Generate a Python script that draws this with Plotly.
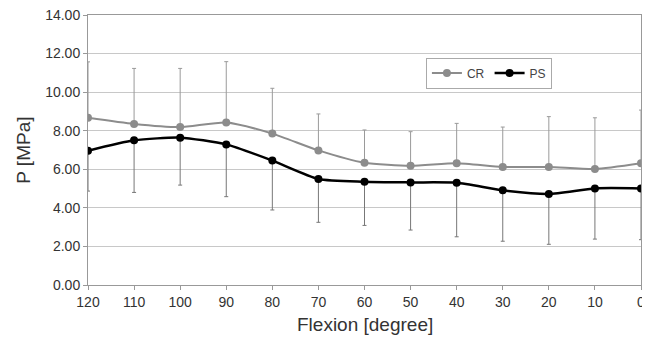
import plotly.graph_objects as go

flexion = ["120", "110", "100", "90", "80", "70", "60", "50", "40", "30", "20", "10", "0"]
cr_mean = [8.67, 8.35, 8.19, 8.43, 7.85, 6.98, 6.34, 6.18, 6.31, 6.12, 6.12, 6.01, 6.31]
cr_sd = [2.90, 2.88, 3.04, 3.15, 2.35, 1.89, 1.70, 1.77, 2.07, 2.07, 2.61, 2.66, 2.76]
ps_mean = [6.96, 7.50, 7.64, 7.29, 6.45, 5.50, 5.36, 5.32, 5.30, 4.91, 4.72, 5.01, 5.01]
ps_sd = [2.09, 2.70, 2.46, 2.71, 2.56, 2.25, 2.27, 2.47, 2.80, 2.64, 2.61, 2.63, 2.66]

zeros = [0] * len(flexion)
font = "Liberation Sans, Arial, sans-serif"

fig = go.Figure()
fig.add_trace(go.Scatter(
    x=flexion, y=cr_mean, name="CR", mode="lines+markers",
    line=dict(color="#8c8c8c", width=2, shape="spline", smoothing=0.6),
    marker=dict(color="#8c8c8c", size=8),
    error_y=dict(type="data", symmetric=False, array=cr_sd, arrayminus=zeros,
                 color="#9a9a9a", thickness=1, width=2),
))
fig.add_trace(go.Scatter(
    x=flexion, y=ps_mean, name="PS", mode="lines+markers",
    line=dict(color="#000000", width=2.5, shape="spline", smoothing=0.6),
    marker=dict(color="#000000", size=8),
    error_y=dict(type="data", symmetric=False, array=zeros, arrayminus=ps_sd,
                 color="#777777", thickness=1, width=2),
))

fig.update_layout(
    width=642, height=329,
    margin=dict(l=80, r=9, t=7, b=52),
    paper_bgcolor="white", plot_bgcolor="white",
    font=dict(family=font, color="#333333", size=13),
    showlegend=True,
    legend=dict(orientation="h", x=0.725, y=0.785, xanchor="center", yanchor="middle",
                bordercolor="#aaaaaa", borderwidth=1, bgcolor="white",
                font=dict(size=12, color="#444444"), itemwidth=30,
                tracegroupgap=0),
    annotations=[
        dict(text="Flexion [degree]", xref="paper", yref="paper", x=0.5, y=-0.148,
             xanchor="center", yanchor="middle", showarrow=False,
             font=dict(size=19, color="#333333")),
        dict(text="P [MPa]", xref="paper", yref="paper", x=-0.118, y=0.5,
             xanchor="center", yanchor="middle", showarrow=False, textangle=-90,
             font=dict(size=19, color="#333333")),
    ],
)
fig.update_xaxes(
    type="category", range=[0, 12], automargin=False,
    showline=True, linecolor="#999999", linewidth=1, mirror=True,
    ticks="outside", ticklen=4, tickcolor="#999999",
    showgrid=False, tickfont=dict(size=14, color="#333333"),
)
fig.update_yaxes(
    range=[0, 14], dtick=2, tickformat=".2f", ticklabeloverflow="allow",
    automargin=False,
    showline=True, linecolor="#999999", linewidth=1, mirror=True,
    ticks="outside", ticklen=4, tickcolor="#999999",
    showgrid=True, gridcolor="#c8c8c8", gridwidth=1,
    tickfont=dict(size=14, color="#333333"),
)

fig.write_html("out.html")
